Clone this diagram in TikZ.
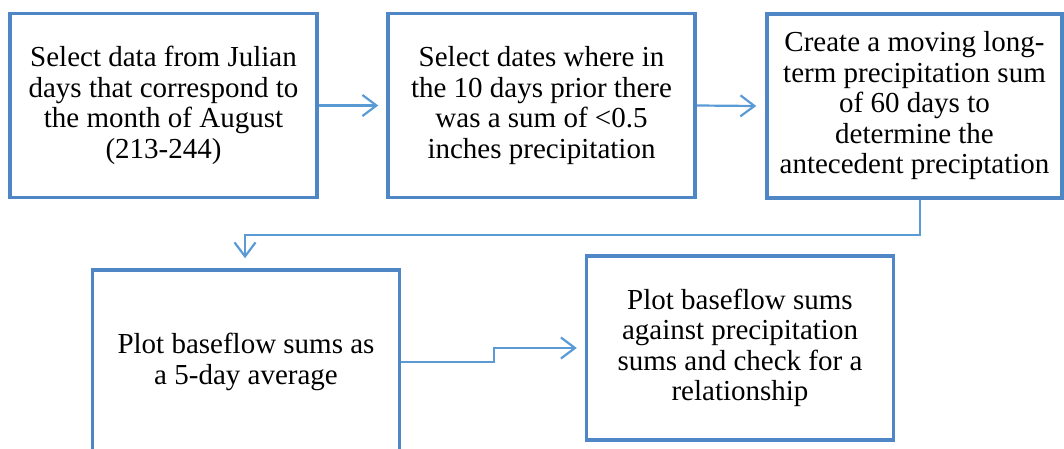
\documentclass[tikz,border=0pt]{standalone}
\usepackage{fontspec}
\setmainfont{Liberation Serif}
\usetikzlibrary{arrows.meta}
\definecolor{boxblue}{RGB}{79,134,198}
\definecolor{linkblue}{RGB}{91,155,213}
\begin{document}
\begin{tikzpicture}[x=1pt,y=-1pt,
  stepbox/.style={draw=boxblue,line width=3.5pt,minimum width=307pt,minimum height=184pt,
    align=center,inner sep=2pt,font=\fontsize{29}{30.5}\selectfont},
  conn/.style={draw=linkblue,line width=2.2pt,-{Straight Barb[length=14pt,width=21pt,line width=2.2pt]}}]
\useasboundingbox (0,0) rectangle (1064,449);
\clip (0,0) rectangle (1064,449);
\node[stepbox] (b1) at (163.5,105.5) {Select data from Julian\\days that correspond to\\the month of August\\(213-244)};
\node[stepbox] (b2) at (541.5,105.5) {Select dates where in\\the 10 days prior there\\was a sum of <0.5\\inches precipitation};
\node[stepbox,minimum width=295pt] (b3) at (914.5,106) {Create a moving long-\\term precipitation sum\\of 60 days to\\determine the\\antecedent preciptation};
\node[stepbox] (b4) at (246,362) {Plot baseflow sums as\\a 5-day average};
\node[stepbox] (b5) at (740,348) {Plot baseflow sums\\against precipitation\\sums and check for a\\relationship};
\draw[conn] (b1.east) -- ([xshift=-8pt]b2.west);
\draw[conn] (b2.east) -- ([xshift=-9pt]b3.west);
\draw[conn] ([xshift=5.5pt]b3.south) -- ++(0,35) -| ([xshift=-1pt,yshift=10pt]b4.north);
\draw[conn] (b4.east) -- ++(93,0) |- ([xshift=-8pt]b5.west);
\end{tikzpicture}
\end{document}
